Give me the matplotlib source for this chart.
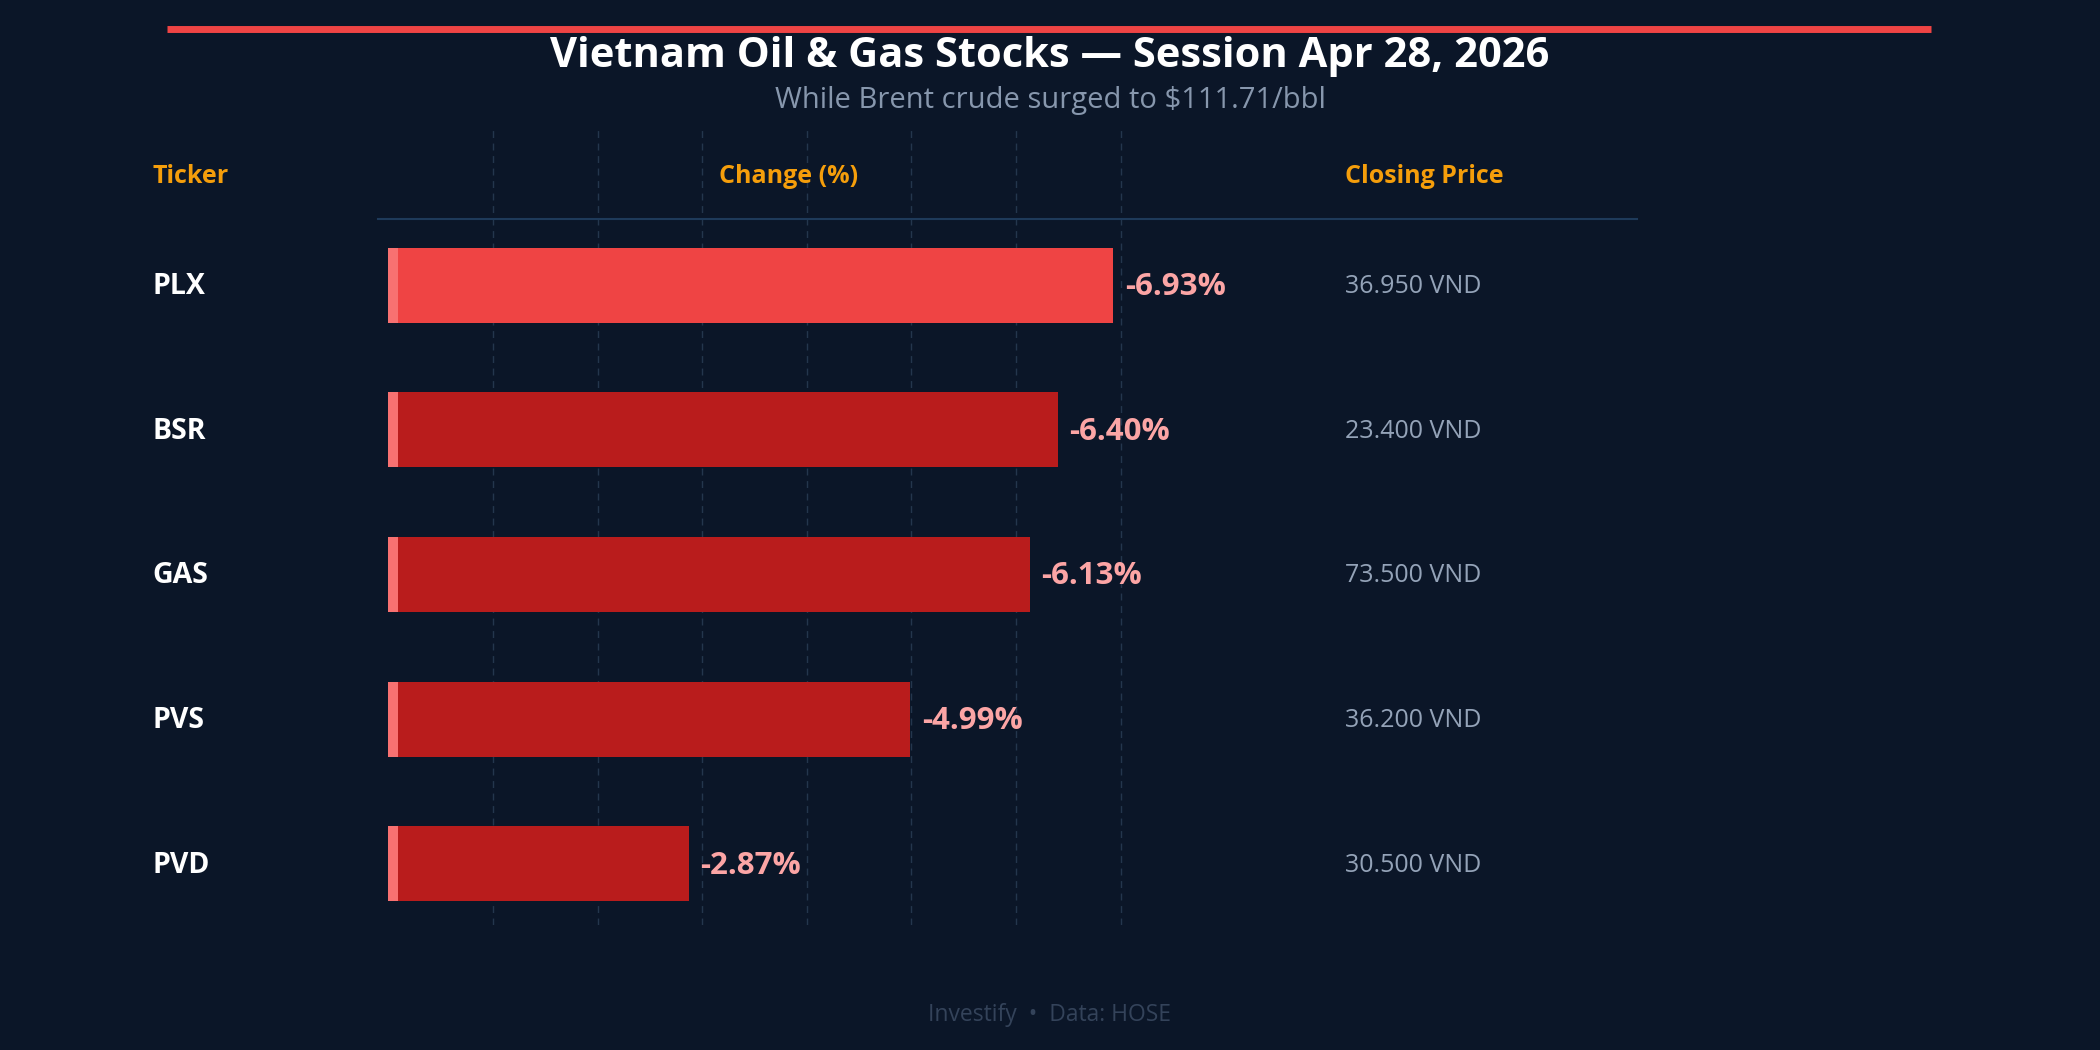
import matplotlib
matplotlib.use("Agg")
import matplotlib.pyplot as plt
from matplotlib.lines import Line2D

plt.rcParams['font.family'] = ['Open Sans', 'DejaVu Sans']

tickers = ["PLX", "BSR", "GAS", "PVS", "PVD"]
changes = [-6.93, -6.40, -6.13, -4.99, -2.87]
prices = ["36.950 VND", "23.400 VND", "73.500 VND", "36.200 VND", "30.500 VND"]
headers = ["Ticker", "Change (%)", "Closing Price"]
title = "Vietnam Oil & Gas Stocks \u2014 Session Apr 28, 2026"
subtitle = "While Brent crude surged to $111.71/bbl"
footer = "Investify  \u2022  Data: HOSE"

BG = "#0b1628"
fig = plt.figure(figsize=(21, 10.5), dpi=100, facecolor=BG)

W, H = 1568.0, 784.0
def fx(x): return x / W
def fy(y): return 1 - y / H

# axes for bars
ax_left = fx(290)
unit = 78.1 / W
xmax = 12
ax = fig.add_axes([ax_left, fy(691), unit * xmax, fy(96) - fy(691)])
ax.set_facecolor("none")
ax.set_xlim(0, xmax)
ax.set_ylim(4.426, -1.083)
for s in ax.spines.values():
    s.set_visible(False)
ax.set_xticks([]); ax.set_yticks([])

for g in range(1, 8):
    ax.axvline(g, color="#24364d", lw=1, ls=(0, (5, 4)), zorder=0)

ypos = list(range(len(tickers)))
mags = [-c for c in changes]
colors = ["#ef4444"] + ["#b91c1c"] * (len(tickers) - 1)
ax.barh(ypos, mags, height=0.52, color=colors, zorder=2)
ax.barh(ypos, [0.09] * len(tickers), height=0.52, color="#f87171", zorder=3)
to_fig = fig.transFigure.inverted()
off = 1.0 / H  # small downward nudge for text centering
for y, m, c in zip(ypos, mags, changes):
    ax.text(m + 0.11, y + 0.012, f"{c:.2f}%", color="#fca5a5", fontsize=22.5,
            fontweight="bold", va="center", ha="left", zorder=4)

# header & separator
fig.add_artist(Line2D([fx(125), fx(1442)], [fy(22), fy(22)], color="#ef4444", lw=5,
                      solid_capstyle="butt"))
fig.text(0.5, fy(42), title, color="white", fontsize=30, fontweight="bold",
         ha="center", va="center")
fig.text(0.5, fy(75), subtitle, color="#8797ad", fontsize=21, ha="center", va="center")

hdr_color = "#f59e0b"
fig.text(fx(114), fy(132), headers[0], color=hdr_color, fontsize=18, fontweight="bold",
         ha="left", va="center")
fig.text(fx(588.5), fy(132), headers[1], color=hdr_color, fontsize=18, fontweight="bold",
         ha="center", va="center")
fig.text(fx(1004), fy(132), headers[2], color=hdr_color, fontsize=18, fontweight="bold",
         ha="left", va="center")
fig.add_artist(Line2D([fx(282), fx(1222)], [fy(163.5), fy(163.5)], color="#1e3a5a", lw=1.5))

# row labels
for y, t, p in zip(ypos, tickers, prices):
    yy = ax.transData.transform((0, y))[1]
    yf = to_fig.transform((0, yy))[1] - off
    fig.text(fx(114), yf, t, color="white", fontsize=20.5, fontweight="bold",
             ha="left", va="center")
    fig.text(fx(1004), yf, p, color="#94a3b8", fontsize=18, ha="left", va="center")

fig.text(0.5, fy(758), footer, color="#34435a", fontsize=16.5, ha="center", va="center")

fig.savefig("out.png", dpi=100, facecolor=BG)
